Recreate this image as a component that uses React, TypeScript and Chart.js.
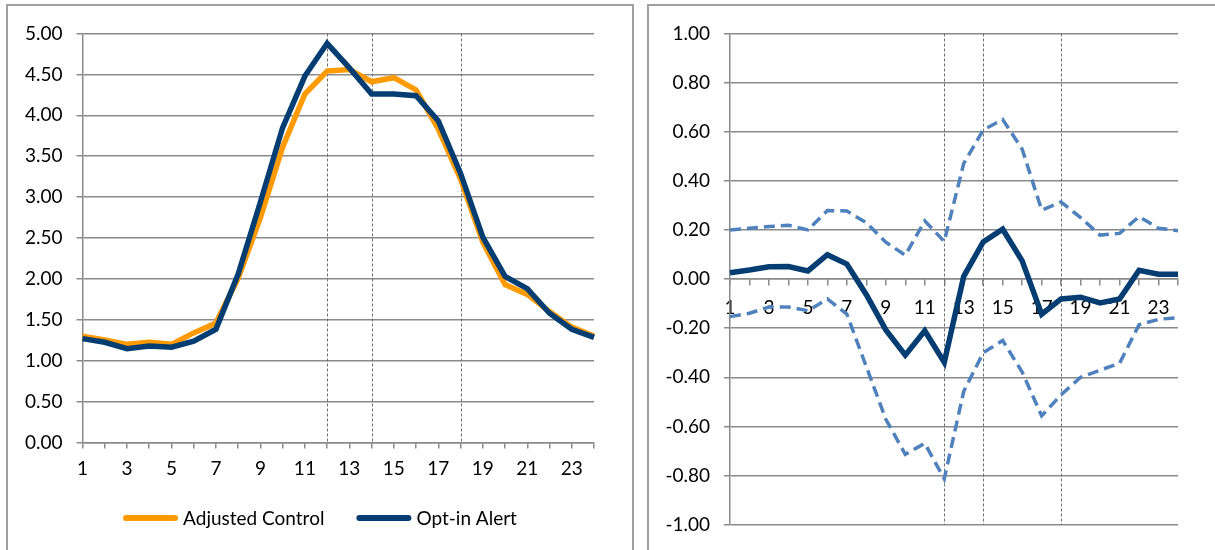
import React, { useEffect, useRef } from 'react';
import { Chart, registerables } from 'chart.js';

Chart.register(...registerables);

// ---- Data ----
const hours = ['1','2','3','4','5','6','7','8','9','10','11','12','13','14','15','16','17','18','19','20','21','22','23','24'];

const adjustedControl = [1.30, 1.255, 1.20, 1.225, 1.20, 1.34, 1.46, 2.01, 2.75, 3.61, 4.26, 4.54, 4.56, 4.41, 4.46, 4.31, 3.83, 3.22, 2.45, 1.93, 1.81, 1.60, 1.41, 1.30];
const optInAlert = [1.27, 1.225, 1.147, 1.18, 1.165, 1.24, 1.385, 2.06, 2.94, 3.85, 4.48, 4.88, 4.58, 4.26, 4.26, 4.24, 3.93, 3.29, 2.51, 2.03, 1.88, 1.58, 1.385, 1.285];

const diffEstimate = [0.026, 0.037, 0.05, 0.051, 0.033, 0.099, 0.061, -0.064, -0.207, -0.31, -0.211, -0.339, 0.011, 0.151, 0.203, 0.074, -0.143, -0.081, -0.074, -0.097, -0.081, 0.036, 0.02, 0.02];
const upperBound = [0.20, 0.207, 0.214, 0.219, 0.20, 0.279, 0.277, 0.229, 0.15, 0.097, 0.237, 0.153, 0.471, 0.607, 0.65, 0.529, 0.281, 0.314, 0.25, 0.179, 0.186, 0.254, 0.207, 0.197];
const lowerBound = [-0.153, -0.139, -0.114, -0.114, -0.129, -0.081, -0.143, -0.357, -0.571, -0.714, -0.669, -0.814, -0.457, -0.30, -0.25, -0.379, -0.557, -0.471, -0.40, -0.371, -0.343, -0.186, -0.164, -0.157];

const markerHours = ['12', '14', '18'];

const leftLegendLabels = ['Adjusted Control', 'Opt-in Alert'];

// ---- Styles ----
const ORANGE = '#FF9A00';
const NAVY = '#043D72';
const LIGHTBLUE = '#4F81BD';
const GRID = '#8a8a8a';
const FONT_FAMILY = 'Lato, "Open Sans", sans-serif';
const FONT_SIZE = 19;

const fmt2 = (v: any) => {
  const n = Number(v);
  return (Math.abs(n) < 1e-9 ? 0 : n).toFixed(2);
};

const markerPlugin = {
  id: 'markerLines',
  beforeDatasetsDraw(chart: any) {
    const { ctx, chartArea, scales } = chart;
    ctx.save();
    ctx.strokeStyle = '#6f6f6f';
    ctx.lineWidth = 1;
    ctx.setLineDash([3, 2]);
    markerHours.forEach((h) => {
      const x = Math.round(scales.x.getPixelForValue(hours.indexOf(h))) + 0.5;
      ctx.beginPath();
      ctx.moveTo(x, chartArea.top);
      ctx.lineTo(x, chartArea.bottom);
      ctx.stroke();
    });
    ctx.restore();
  },
};

const customLegendPlugin = {
  id: 'customLegend',
  afterDraw(chart: any) {
    const { ctx, width } = chart;
    const colors = [ORANGE, NAVY];
    const sample = 55;
    const gapText = 5;
    const gapItems = 32;
    ctx.save();
    ctx.font = `${FONT_SIZE}px ${FONT_FAMILY}`;
    const widths = leftLegendLabels.map((t) => ctx.measureText(t).width);
    const total = widths.reduce((a, w) => a + sample + gapText + w, 0) + gapItems * (leftLegendLabels.length - 1);
    let x = (width - total) / 2;
    const y = 512;
    leftLegendLabels.forEach((t, i) => {
      ctx.strokeStyle = colors[i];
      ctx.lineWidth = 6;
      ctx.lineCap = 'round';
      ctx.beginPath();
      ctx.moveTo(x + 3, y);
      ctx.lineTo(x + sample - 3, y);
      ctx.stroke();
      ctx.fillStyle = '#000';
      ctx.textBaseline = 'middle';
      ctx.textAlign = 'left';
      ctx.fillText(t, x + sample + gapText, y + 1);
      x += sample + gapText + widths[i] + gapItems;
    });
    ctx.restore();
  },
};

function LeftChart() {
  const ref = useRef<HTMLCanvasElement>(null);
  useEffect(() => {
    if (!ref.current) return;
    const chart = new Chart(ref.current, {
      type: 'line',
      data: {
        labels: hours,
        datasets: [
          {
            label: 'Opt-in Alert',
            data: optInAlert,
            borderColor: NAVY,
            backgroundColor: NAVY,
            borderWidth: 5.5,
            pointRadius: 0,
            tension: 0,
            order: 0,
          },
          {
            label: 'Adjusted Control',
            data: adjustedControl,
            borderColor: ORANGE,
            backgroundColor: ORANGE,
            borderWidth: 5.5,
            pointRadius: 0,
            tension: 0,
            order: 1,
          },
        ],
      },
      options: {
        responsive: false,
        animation: false,
        events: [],
        layout: { padding: { left: 0, right: 38, top: 27.5, bottom: 67.5 } },
        plugins: { legend: { display: false }, tooltip: { enabled: false } },
        scales: {
          x: {
            type: 'category',
            offset: false,
            grid: { drawOnChartArea: false, drawTicks: true, tickLength: 6, color: GRID, lineWidth: 1.5 },
            border: { display: true, color: GRID, width: 1.5 },
            ticks: {
              autoSkip: false,
              maxRotation: 0,
              padding: 9,
              color: '#000',
              font: { family: FONT_FAMILY, size: FONT_SIZE },
              callback: (_v: any, i: number) => (i % 2 === 0 ? hours[i] : ''),
            },
            afterFit: (s: any) => { s.height = 40; },
          },
          y: {
            min: 0,
            max: 5,
            ticks: {
              stepSize: 0.5,
              padding: 14,
              color: '#000',
              font: { family: FONT_FAMILY, size: FONT_SIZE },
              callback: fmt2,
            },
            grid: { color: GRID, lineWidth: 1.5, tickLength: 6, drawTicks: true },
            border: { display: true, color: GRID, width: 1.5 },
            afterFit: (s: any) => { s.width = 74.5; },
          },
        },
      },
      plugins: [markerPlugin, customLegendPlugin],
    } as any);
    return () => chart.destroy();
  }, []);
  return <canvas ref={ref} width={624} height={544} style={{ width: 624, height: 544, display: 'block' }} />;
}

function RightChart() {
  const ref = useRef<HTMLCanvasElement>(null);
  useEffect(() => {
    if (!ref.current) return;
    const chart = new Chart(ref.current, {
      type: 'line',
      data: {
        labels: hours,
        datasets: [
          {
            label: 'Difference',
            data: diffEstimate,
            borderColor: NAVY,
            backgroundColor: NAVY,
            borderWidth: 5.5,
            pointRadius: 0,
            tension: 0,
            order: 0,
          },
          {
            label: 'Upper bound',
            data: upperBound,
            borderColor: LIGHTBLUE,
            backgroundColor: LIGHTBLUE,
            borderWidth: 3.5,
            borderDash: [11, 6],
            pointRadius: 0,
            tension: 0,
            order: 1,
          },
          {
            label: 'Lower bound',
            data: lowerBound,
            borderColor: LIGHTBLUE,
            backgroundColor: LIGHTBLUE,
            borderWidth: 3.5,
            borderDash: [11, 6],
            pointRadius: 0,
            tension: 0,
            order: 2,
          },
        ],
      },
      options: {
        responsive: false,
        animation: false,
        events: [],
        layout: { padding: { left: 0, right: 37, top: 27.5, bottom: 24.5 } },
        plugins: { legend: { display: false }, tooltip: { enabled: false } },
        scales: {
          x: {
            type: 'category',
            position: { y: 0 },
            offset: false,
            grid: { drawOnChartArea: false, drawTicks: true, tickLength: 6, color: GRID, lineWidth: 1.5 },
            border: { display: true, color: GRID, width: 1.5 },
            ticks: {
              autoSkip: false,
              maxRotation: 0,
              padding: 11,
              color: '#000',
              font: { family: FONT_FAMILY, size: FONT_SIZE },
              callback: (_v: any, i: number) => (i % 2 === 0 ? hours[i] : ''),
            },
          },
          y: {
            min: -1,
            max: 1,
            ticks: {
              stepSize: 0.2,
              padding: 14,
              color: '#000',
              font: { family: FONT_FAMILY, size: FONT_SIZE },
              callback: fmt2,
            },
            grid: { color: GRID, lineWidth: 1.5, tickLength: 6, drawTicks: true },
            border: { display: true, color: GRID, width: 1.5 },
            afterFit: (s: any) => { s.width = 80; },
          },
        },
      },
      plugins: [markerPlugin],
    } as any);
    return () => chart.destroy();
  }, []);
  return <canvas ref={ref} width={565} height={544} style={{ width: 565, height: 544, display: 'block' }} />;
}

export default function App() {
  return (
    <div style={{ position: 'fixed', left: 0, top: 0, width: 1215, height: 550, overflow: 'hidden', background: '#fff' }}>
      <div style={{ position: 'absolute', left: 6, top: 4, width: 624, height: 600, border: '2px solid #a0a0a0' }} />
      <div style={{ position: 'absolute', left: 647, top: 4, width: 620, height: 600, border: '2px solid #a0a0a0' }} />
      <div style={{ position: 'absolute', left: 8, top: 6 }}>
        <LeftChart />
      </div>
      <div style={{ position: 'absolute', left: 650, top: 6 }}>
        <RightChart />
      </div>
    </div>
  );
}
